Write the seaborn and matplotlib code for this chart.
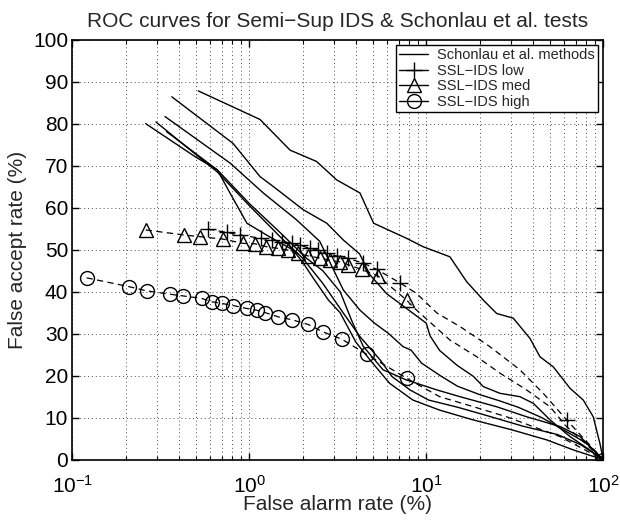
import numpy as np
import pandas as pd
import matplotlib
matplotlib.use("Agg")
import matplotlib.pyplot as plt
import seaborn as sns
from matplotlib.lines import Line2D
from matplotlib.ticker import LogLocator, MultipleLocator, NullFormatter

# ---------------- data ----------------
sch_a_x = [0.26, 0.5, 0.66, 0.78, 0.97, 1.25, 1.77, 2.02, 2.3, 2.8, 3.26, 4.0, 4.8, 6.2, 8.4, 11.9, 18.3, 30.5, 48, 68, 100]
sch_a_y = [80, 72, 69, 63.4, 56.3, 53.5, 49.9, 46.8, 43.2, 38, 35, 28, 23.8, 18.2, 14.2, 11.8, 9.5, 7.1, 4.7, 2.3, 0]

sch_b_x = [0.297, 0.66, 1.0, 1.5, 2.0, 2.6, 3.4, 4.22, 5.5, 6.4, 8.1, 10.3, 15, 22, 35, 55, 75, 100]
sch_b_y = [80.4, 68.5, 60.5, 53, 48, 42, 34.9, 29.3, 23.7, 19.8, 16.6, 14.2, 12.5, 10.5, 8, 6, 3.5, 0]

sch_c_x = [0.341, 0.66, 1.0, 1.5, 2.1, 2.6, 3.26, 3.8, 4.4, 5.7, 7.7, 11.5, 15.5, 25, 37, 57, 74, 100]
sch_c_y = [78.1, 69, 61, 54, 48, 45, 40, 33, 27, 21.4, 19, 16.6, 15, 12.6, 10.2, 7.9, 5.5, 0]

sch_d_x = [0.334, 0.78, 1.2, 1.85, 2.5, 3.4, 4.22, 5.1, 6.1, 7.4, 8.2, 9.4, 12, 15, 20, 26, 33, 45, 60, 80, 100]
sch_d_y = [81.7, 70.6, 63.5, 57.1, 52, 40.4, 35.6, 32.5, 30.1, 26.9, 26.1, 23, 20, 17.5, 15.5, 14, 12.5, 10, 7, 4, 0]

sch_e_x = [0.365, 0.81, 1.15, 1.37, 2.02, 2.74, 3.4, 4.2, 4.81, 5.98, 7.74, 10, 10.5, 11.9, 14.9, 18.5, 21, 26.1, 33.8, 40.3, 50, 64.9, 84, 100]
sch_e_y = [86.4, 75.3, 67.4, 65.0, 59.5, 56.3, 52.3, 49, 44, 39.5, 36, 32.5, 29.5, 26, 22.5, 19.8, 17.4, 15.8, 15, 13.4, 9.5, 5.5, 2.3, 0]

sch_f_x = [0.515, 1.15, 1.70, 2.40, 3.12, 4.22, 5.04, 7.74, 9.6, 13.6, 16.9, 21, 25, 31, 38.5, 43.9, 52.2, 64.9, 77.1, 87.8, 95.7, 100]
sch_f_y = [87.8, 81.0, 73.7, 71.0, 66.6, 63.5, 56.3, 52.7, 50.7, 48.3, 42.4, 38, 34.8, 33.7, 28.9, 24.5, 22.1, 17, 14.2, 10.2, 3.9, 0]

low_x = [0.586, 0.748, 0.885, 1.17, 1.34, 1.53, 1.74, 1.93, 2.20, 2.45, 2.74, 3.12, 3.63, 4.40, 5.25, 7.1,
         8.8, 11.5, 15.5, 22.9, 33.8, 45.8, 62, 100]
low_y = [54.9, 54.1, 53.5, 52.7, 52.3, 51.9, 51.5, 51.1, 50.3, 49.9, 49.1, 48.5, 47.9, 46.8, 45.3, 42.1,
         39.6, 34.9, 31.7, 26.9, 21.4, 15.8, 9.5, 0]
low_marked = [1] * 16 + [0, 0, 0, 0, 0, 0, 1, 1]

med_x = [0.26, 0.428, 0.526, 0.713, 0.925, 1.08, 1.25, 1.46, 1.66, 1.89, 2.15, 2.51, 2.86, 3.25, 3.62, 4.31, 5.35, 7.74,
         8.4, 13.6, 19.3, 26.1, 36.9, 50, 62, 100]
med_y = [54.7, 53.5, 53.1, 52.5, 51.5, 51.4, 50.7, 50.3, 49.9, 49.1, 48.5, 48.0, 47.5, 47.1, 46.4, 45.3, 43.7, 38.0,
         36.4, 28.5, 24.5, 20.6, 16.6, 12.6, 7.9, 0]
med_marked = [1] * 18 + [0, 0, 0, 0, 0, 0, 0, 1]

high_x = [0.1205, 0.209, 0.263, 0.356, 0.421, 0.538, 0.613, 0.699, 0.812, 0.966, 1.10, 1.23, 1.46, 1.75, 2.15, 2.62, 3.33, 4.60, 7.74,
          11.9, 18.5, 28.5, 56.9, 100]
high_y = [43.3, 41.2, 40.2, 39.4, 39.0, 38.4, 37.6, 37.2, 36.7, 36.0, 35.6, 35.0, 34.0, 33.3, 32.2, 30.4, 28.7, 25.1, 19.4,
          15.0, 12.6, 10.2, 5.5, 0]
high_marked = [1] * 19 + [0, 0, 0, 0, 1]

legend_labels = ["Schonlau et al. methods", "SSL\u2212IDS low", "SSL\u2212IDS med", "SSL\u2212IDS high"]
x_ticks = [0.1, 1, 10, 100]
y_ticks = list(range(0, 101, 10))

# ---------------- style ----------------
sns.set_style("ticks")
plt.rcParams["font.family"] = ["Liberation Sans", "DejaVu Sans"]
plt.rcParams["mathtext.fontset"] = "custom"
plt.rcParams["mathtext.rm"] = "Liberation Sans"
plt.rcParams["mathtext.it"] = "Liberation Sans"
plt.rcParams["axes.unicode_minus"] = True

fig = plt.figure(figsize=(6.2, 5.2), dpi=100)
ax = fig.add_axes([0.1166, 0.116, 0.8564, 0.8077])

sch_series = [(sch_a_x, sch_a_y), (sch_b_x, sch_b_y), (sch_c_x, sch_c_y),
              (sch_d_x, sch_d_y), (sch_e_x, sch_e_y), (sch_f_x, sch_f_y)]
for sx, sy in sch_series:
    df = pd.DataFrame({"far": sx, "fac": sy})
    sns.lineplot(data=df, x="far", y="fac", ax=ax, color="k", lw=1.0,
                 sort=False, estimator=None, legend=False)

dash = (0, (5, 3.5))
ssl = [(low_x, low_y, low_marked, "+", 11),
       (med_x, med_y, med_marked, "^", 10),
       (high_x, high_y, high_marked, "o", 10)]
for sx, sy, mk, m, ms in ssl:
    df = pd.DataFrame({"far": sx, "fac": sy})
    idx = [i for i, v in enumerate(mk) if v]
    sns.lineplot(data=df, x="far", y="fac", ax=ax, color="k", lw=0.9,
                 linestyle=dash, marker=m, markersize=ms, markevery=idx,
                 markerfacecolor="none", markeredgecolor="k", markeredgewidth=1.0,
                 sort=False, estimator=None, legend=False)

ax.set_xscale("log")
ax.set_xlim(0.1, 100)
ax.set_ylim(0, 100)
ax.set_xticks(x_ticks)
ax.set_yticks(y_ticks)
ax.xaxis.set_minor_locator(LogLocator(base=10, subs=np.arange(2, 10)))
ax.xaxis.set_minor_formatter(NullFormatter())

ax.grid(True, which="major", axis="both", color="0.3", linestyle=(0, (1, 3)), lw=0.7)
ax.grid(True, which="minor", axis="x", color="0.3", linestyle=(0, (1, 3)), lw=0.7)

for s in ax.spines.values():
    s.set_visible(True)
    s.set_linewidth(1.2)
    s.set_color("k")
ax.tick_params(which="both", direction="in", top=True, right=True, colors="k")
ax.tick_params(which="major", length=5, width=1.0, labelsize=15)
ax.tick_params(axis="y", which="major", pad=3)
ax.tick_params(axis="x", which="major", pad=11)
ax.tick_params(which="minor", length=3, width=0.8)

ax.set_xlabel("False alarm rate (%)", fontsize=15, labelpad=-1)
ax.set_ylabel("False accept rate (%)", fontsize=15, labelpad=4)
ax.set_title("ROC curves for Semi\u2212Sup IDS & Schonlau et al. tests", fontsize=15, pad=9)

handles = [
    Line2D([], [], color="k", lw=1.0),
    Line2D([], [], color="k", lw=1.0, marker="+", markersize=11, markerfacecolor="none"),
    Line2D([], [], color="k", lw=1.0, marker="^", markersize=10, markerfacecolor="none"),
    Line2D([], [], color="k", lw=1.0, marker="o", markersize=10, markerfacecolor="none"),
]
leg = ax.legend(handles, legend_labels, loc="upper right", bbox_to_anchor=(0.991, 0.988),
                borderaxespad=0, fontsize=10.5, frameon=True, fancybox=False,
                handlelength=2.0, handletextpad=0.6, labelspacing=0.1,
                borderpad=0.25, framealpha=1)
leg.get_frame().set_edgecolor("k")
leg.get_frame().set_linewidth(1.0)

fig.savefig("out.png", dpi=100)
